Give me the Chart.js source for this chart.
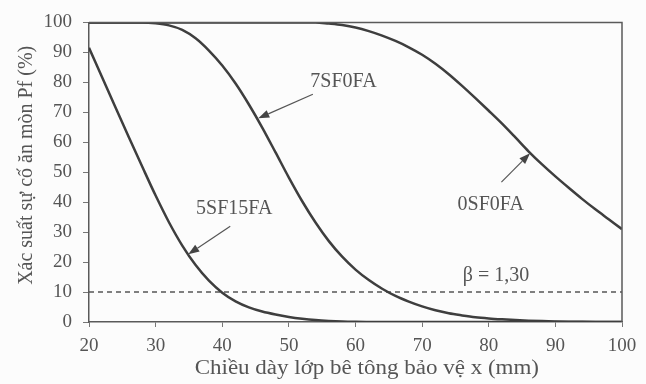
<!DOCTYPE html>
<html>
<head>
<meta charset="utf-8">
<script src="https://cdn.jsdelivr.net/npm/chart.js@4/dist/chart.umd.min.js"></script>
<style>
  html, body { margin: 0; padding: 0; background: #fcfcfc; }
  #wrap { width: 646px; height: 384px; }
</style>
</head>
<body>
<div id="wrap"><canvas id="c" width="646" height="384"></canvas></div>
<script>
// Concrete cover thickness x (mm)
const thicknessMm = [20,22,24,26,28,30,32,34,36,38,40,42,44,46,48,50,52,54,56,58,60,
                     62,64,66,68,70,72,74,76,78,80,82,84,86,88,90,92,94,96,98,100];

// Corrosion probability Pf (%) for each mix
const pf5SF15FA = [91.5,81.5,71.5,61.6,51.8,42.2,33.3,25.5,19,13.8,9.8,6.9,4.9,3.5,2.5,1.7,1.1,0.65,0.35,0.15,0.05,
                   0,0,0,0,0,0,0,0,0,0,0,0,0,0,0,0,0,0,0,0];
const pf7SF0FA  = [100,100,100,100,100,99.7,99,97.5,94.7,90.6,85.6,79.6,72.6,64.9,56.6,48.2,40.3,33.2,27,21.8,17.5,
                   14,11.1,8.7,6.8,5.2,3.9,2.9,2.2,1.6,1.2,0.9,0.65,0.45,0.3,0.2,0.12,0.07,0.03,0.01,0];
const pf0SF0FA  = [100,100,100,100,100,100,100,100,100,100,100,100,100,100,100,100,100,100,99.6,99.1,98.3,
                   97.1,95.6,93.8,91.7,89.2,86.2,82.7,78.8,74.7,70.5,66.2,61.6,56.9,52.6,48.6,44.8,41.1,37.6,34.3,31];

// Reliability threshold (beta = 1,30  ->  Pf = 10 %)
const betaThreshold = 10;
const betaLabel = 'β = 1,30';

// Axis ticks
const xTicks = [20,30,40,50,60,70,80,90,100];
const yTicks = [0,10,20,30,40,50,60,70,80,90,100];

// Curve labels with arrows, in data units: text position, arrow start, arrow tip
const curveLabels = [
  { text: '7SF0FA',  tx: 58.2, ty: 80.2, from: [53.6, 76.0], to: [45.4, 68.0] },
  { text: '0SF0FA',  tx: 80.3, ty: 39.0, from: [81.9, 46.7], to: [86.2, 56.3] },
  { text: '5SF15FA', tx: 41.8, ty: 37.7, from: [41.2, 32.0], to: [34.9, 22.6] }
];

const TEXT = '#555555';
const LINE = '#3e3e3e';
const SERIF = '"Liberation Serif", "Times New Roman", serif';

const series = (vals) => thicknessMm.map((x, i) => ({ x: x, y: vals[i] }));

const annotations = {
  id: 'annotations',
  beforeDraw(chart) {
    const { ctx } = chart;
    ctx.save();
    ctx.fillStyle = '#fcfcfc';
    ctx.fillRect(0, 0, chart.width, chart.height);
    ctx.restore();
  },
  afterDraw(chart) {
    const { ctx, chartArea: a, scales: { x, y } } = chart;
    ctx.save();
    // frame on top and right
    ctx.strokeStyle = '#5a5a5a';
    ctx.lineWidth = 1.5;
    ctx.beginPath();
    ctx.moveTo(a.left, a.top);
    ctx.lineTo(a.right, a.top);
    ctx.lineTo(a.right, a.bottom);
    ctx.stroke();

    ctx.fillStyle = TEXT;
    ctx.textAlign = 'center';
    ctx.textBaseline = 'middle';
    ctx.font = '20px ' + SERIF;

    // curve labels + arrows
    curveLabels.forEach(l => {
      ctx.fillStyle = TEXT;
      ctx.fillText(l.text, x.getPixelForValue(l.tx), y.getPixelForValue(l.ty));
      const x0 = x.getPixelForValue(l.from[0]), y0 = y.getPixelForValue(l.from[1]);
      const x1 = x.getPixelForValue(l.to[0]),   y1 = y.getPixelForValue(l.to[1]);
      const ang = Math.atan2(y1 - y0, x1 - x0);
      const head = 11, half = 4;
      ctx.strokeStyle = '#555';
      ctx.lineWidth = 1.2;
      ctx.beginPath();
      ctx.moveTo(x0, y0);
      ctx.lineTo(x1 - head * Math.cos(ang), y1 - head * Math.sin(ang));
      ctx.stroke();
      ctx.fillStyle = '#444';
      ctx.beginPath();
      ctx.moveTo(x1, y1);
      ctx.lineTo(x1 - head * Math.cos(ang) + half * Math.sin(ang), y1 - head * Math.sin(ang) - half * Math.cos(ang));
      ctx.lineTo(x1 - head * Math.cos(ang) - half * Math.sin(ang), y1 - head * Math.sin(ang) + half * Math.cos(ang));
      ctx.closePath();
      ctx.fill();
    });

    // threshold label
    ctx.fillStyle = TEXT;
    ctx.fillText(betaLabel, x.getPixelForValue(81.1), y.getPixelForValue(15.3));

    // axis titles
    ctx.font = '20px ' + SERIF;
    ctx.save();
    ctx.translate(x.getPixelForValue(61.7), 369);
    ctx.scale(1.15, 1);
    ctx.fillText('Chiều dày lớp bê tông bảo vệ x (mm)', 0, 0);
    ctx.restore();

    ctx.save();
    ctx.translate(27, y.getPixelForValue(52.3));
    ctx.rotate(-Math.PI / 2);
    ctx.fillText('Xác suất sự cố ăn mòn Pf (%)', 0, 0);
    ctx.restore();

    ctx.restore();
  }
};

new Chart(document.getElementById('c'), {
  type: 'line',
  data: {
    datasets: [
      { label: '5SF15FA', data: series(pf5SF15FA) },
      { label: '7SF0FA',  data: series(pf7SF0FA) },
      { label: '0SF0FA',  data: series(pf0SF0FA) },
      {
        label: betaLabel,
        data: [{ x: thicknessMm[0], y: betaThreshold }, { x: thicknessMm[thicknessMm.length - 1], y: betaThreshold }],
        borderColor: '#555',
        borderWidth: 1.5,
        borderDash: [5, 4],
        cubicInterpolationMode: 'default',
        tension: 0
      }
    ].map(d => Object.assign({
      borderColor: LINE,
      borderWidth: 2.5,
      pointRadius: 0,
      fill: false,
      cubicInterpolationMode: 'monotone'
    }, d))
  },
  options: {
    responsive: false,
    animation: false,
    devicePixelRatio: 1,
    layout: { padding: { left: 0, right: 24, top: 14, bottom: 0 } },
    plugins: { legend: { display: false }, tooltip: { enabled: false } },
    scales: {
      x: {
        type: 'linear',
        min: 20, max: 100,
        afterFit(s) { s.height = 62; },
        afterBuildTicks(s) { s.ticks = xTicks.map(v => ({ value: v })); },
        grid: { drawOnChartArea: false, drawTicks: true, tickLength: 5, color: '#777', lineWidth: 1 },
        border: { display: true, color: '#5a5a5a', width: 1.5 },
        ticks: { color: TEXT, padding: 8, maxRotation: 0, font: { family: SERIF, size: 19 } }
      },
      y: {
        type: 'linear',
        min: 0, max: 100,
        afterFit(s) { s.width = 89; },
        afterBuildTicks(s) { s.ticks = yTicks.map(v => ({ value: v })); },
        grid: { drawOnChartArea: false, drawTicks: true, tickLength: 6, color: '#777', lineWidth: 1 },
        border: { display: true, color: '#5a5a5a', width: 1.5 },
        ticks: { color: TEXT, padding: 11, font: { family: SERIF, size: 19 } }
      }
    }
  },
  plugins: [annotations]
});
</script>
</body>
</html>
